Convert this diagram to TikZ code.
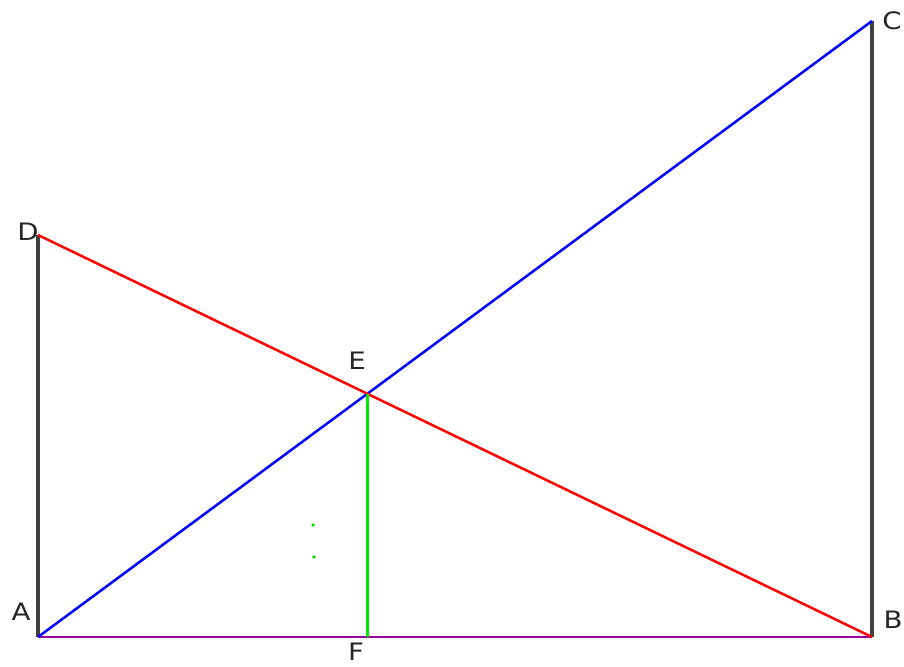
\documentclass[tikz,border=0pt]{standalone}
\usepackage{fontspec}
\setmainfont{DejaVu Sans}
\definecolor{dotgreen}{RGB}{0,220,0}
\definecolor{linegreen}{RGB}{0,230,0}
\definecolor{linepurple}{RGB}{153,0,153}
\begin{document}
\begin{tikzpicture}[x=1pt,y=-1pt,
  lbl/.style={font=\fontsize{24}{28}\selectfont, inner sep=0pt, text=black!85, xscale=1.15},
  post/.style={draw=black!75, line width=3.5pt},
  seg/.style={line width=2.5pt}]
\useasboundingbox (0,0) rectangle (904,666);
\coordinate (A) at (38,637);
\coordinate (B) at (872,637);
\coordinate (C) at (872,21);
\coordinate (D) at (38,235);
\coordinate (E) at (367,394);
\coordinate (F) at (367,637);
\draw[post] (A) -- (D);
\draw[post] (B) -- (C);
\draw[seg, draw=linepurple] (A) -- (B);
\draw[seg, draw=blue] (A) -- (C);
\draw[seg, draw=red] (D) -- (B);
\draw[line width=3pt, draw=linegreen] (E) -- (F);
\fill[dotgreen] (313,525) circle (1.8pt);
\fill[dotgreen] (314,557) circle (1.8pt);
\node[lbl] (lA) at (21,612) {A};
\node[lbl] (lB) at (893,620) {B};
\node[lbl] (lC) at (892,21) {C};
\node[lbl] (lD) at (28,232) {D};
\node[lbl] (lE) at (357,361) {E};
\node[lbl] (lF) at (356,652) {F};
\end{tikzpicture}
\end{document}
